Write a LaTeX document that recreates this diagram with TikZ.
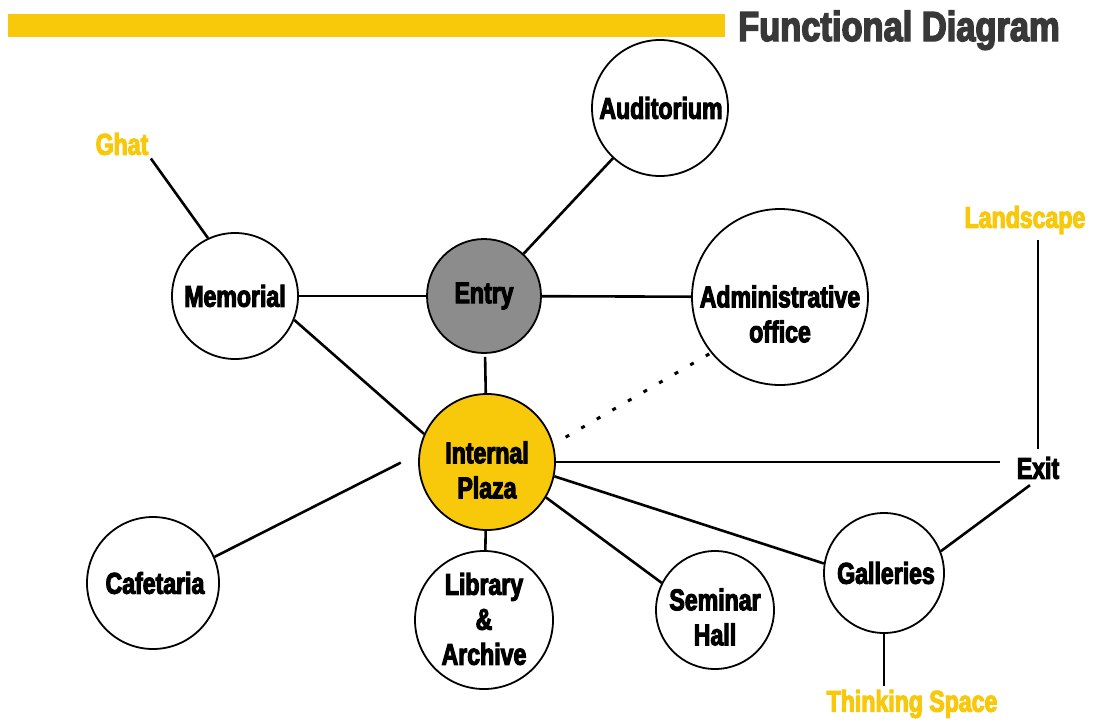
\documentclass[tikz,border=0pt]{standalone}
\usepackage{fontspec}
\newfontfamily\labelfont{Liberation Sans}[FakeStretch=0.77, BoldFeatures={FakeBold=3.5}]
\newfontfamily\titlefont{Liberation Sans}[FakeStretch=0.82, BoldFeatures={FakeBold=3.5}]
\definecolor{gold}{HTML}{F8C80A}
\definecolor{entrygray}{HTML}{8C8C8C}
\definecolor{titlegray}{HTML}{383838}
\tikzset{
  room/.style={circle, draw=black, line width=1.8pt, fill=white, inner sep=0pt},
  lbl/.style={font=\labelfont\bfseries\fontsize{30}{35}\selectfont, align=center, inner sep=0pt},
  outer/.style={lbl, text=gold},
  link/.style={line width=2.6pt, black},
  dotlink/.style={line width=3pt, black, dash pattern=on 4pt off 14pt}
}
\begin{document}
\begin{tikzpicture}[x=1pt,y=-1pt]
\fill[white] (0,0) rectangle (1094,723);
\useasboundingbox (0,0) rectangle (1094,723);
% header
\fill[gold] (8,14) rectangle (725,37);
\node[anchor=base west, inner sep=0pt, text=titlegray, font=\titlefont\bfseries\fontsize{42}{44}\selectfont] (title) at (738,41) {Functional Diagram};
% rooms
\node[room, minimum size=136pt] (aud) at (660,108) {};
\node[lbl] (audt) at (661,108) {Auditorium};
\node[room, minimum size=126pt] (mem) at (235,296) {};
\node[lbl] (memt) at (235,296) {Memorial};
\node[room, minimum size=114pt, fill=entrygray] (entry) at (484,296) {};
\node[lbl] (entryt) at (484,296) {Entry};
\node[room, minimum size=176pt] (admin) at (780,297) {};
\node[lbl] (admint) at (780,314) {Administrative\\office};
\node[room, minimum size=136pt, fill=gold] (plaza) at (487,462) {};
\node[lbl] (plazat) at (487,470) {Internal\\Plaza};
\node[room, minimum size=132pt] (caf) at (153,583) {};
\node[lbl] (caft) at (155,583) {Cafetaria};
\node[room, minimum size=138pt] (lib) at (484,620) {};
\node[lbl] (libt) at (484,619) {Library\\\&\\Archive};
\node[room, minimum size=118pt] (sem) at (715,610) {};
\node[lbl] (semt) at (715,617) {Seminar\\Hall};
\node[room, minimum size=120pt] (gal) at (884,573) {};
\node[lbl] (galt) at (886,573) {Galleries};
% outside labels
\node[outer] (ghat) at (122,144) {Ghat};
\node[outer] (land) at (1025,220) {Landscape};
\node[lbl] (exit) at (1038,468) {Exit};
\node[outer] (think) at (912,704) {Thinking Space};
% connectors
\draw[link, shorten <=4pt] (ghat.south east) -- (mem.115);
\draw[link] (mem) -- (entry);
\draw[link] (entry) -- (admin);
\draw[link] (entry) -- (aud);
\draw[link] (mem.-22) -- (plaza.156);
\draw[link, shorten <=3pt] (entry) -- (plaza);
\draw[dotlink, shorten <=14pt] (plaza.15) -- (admin.219);
\draw[link, shorten >=17pt] (plaza.east) -- (plaza.east -| exit.west);
\draw[link, shorten <=6pt, shorten >=8pt] (land.south -| exit.north) -- (exit.north);
\draw[link, shorten <=10pt] (exit.south) -- (gal.21);
\draw[link] (plaza.-12) -- (gal.171);
\draw[link] (plaza.-31) -- (sem.153);
\draw[link] (plaza) -- (lib);
\draw[link, shorten >=20pt] (caf.23) -- (plaza.173);
\draw[link, shorten >=4pt] (gal.south) -- (gal.south |- think.north);
\end{tikzpicture}
\end{document}
